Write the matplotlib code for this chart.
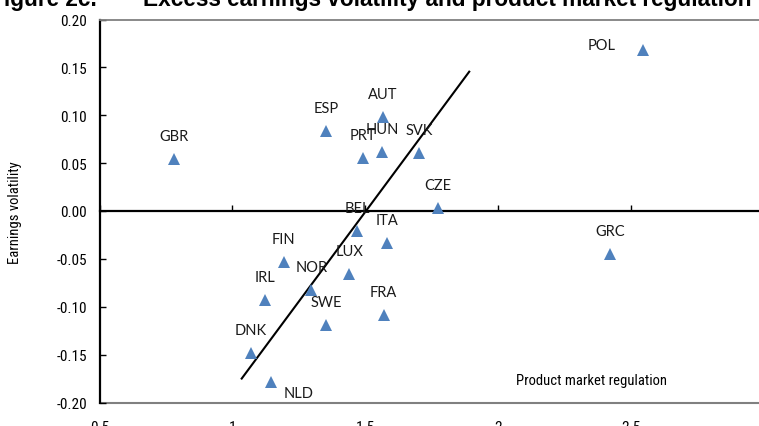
import matplotlib
matplotlib.use("Agg")
import matplotlib.pyplot as plt
from matplotlib import font_manager as fm
from matplotlib.ticker import FormatStrFormatter, MultipleLocator

# ---- data ----
countries = ["POL", "GBR", "ESP", "AUT", "PRT", "HUN", "SVK", "CZE", "BEL", "ITA",
             "FIN", "LUX", "NOR", "IRL", "SWE", "FRA", "DNK", "NLD", "GRC"]
pmr = [2.545, 0.782, 1.352, 1.565, 1.490, 1.563, 1.703, 1.772, 1.469, 1.581,
       1.193, 1.440, 1.297, 1.124, 1.352, 1.569, 1.070, 1.145, 2.421]
volatility = [0.168, 0.0545, 0.0835, 0.098, 0.0555, 0.062, 0.0607, 0.003, -0.0206, -0.0335,
              -0.053, -0.066, -0.0827, -0.0929, -0.119, -0.109, -0.1487, -0.1787, -0.045]
trend_x = [1.035, 1.891]
trend_y = [-0.175, 0.1455]
x_ticks = [0.5, 1.0, 1.5, 2.0, 2.5, 3.0]
x_tick_labels = ["0.5", "1", "1.5", "2", "2.5", "3"]

# ---- fonts: look for a narrow sans ----
names = {f.name for f in fm.fontManager.ttflist}
stretches = {(f.name, f.stretch) for f in fm.fontManager.ttflist}
narrow_kw = {"family": ["Liberation Sans", "DejaVu Sans"]}
narrow_scale = 0.92
for cand in ["Liberation Sans Narrow", "Arial Narrow", "Roboto Condensed",
             "Open Sans Condensed", "DejaVu Sans Condensed"]:
    if cand in names:
        narrow_kw = {"family": [cand, "DejaVu Sans"]}
        narrow_scale = 1.0
        break
else:
    cond = [n for (n, s) in stretches if s in ("condensed", "semi-condensed", 62.5, 75, 87.5)]
    if "DejaVu Sans" in cond:
        narrow_kw = {"family": ["DejaVu Sans"], "stretch": "condensed"}
        narrow_scale = 0.95

def nfs(size):
    return size * narrow_scale

label_font = ["Lato", "DejaVu Sans"]
marker_color = "#4F81BD"
default_offset = (0, 16.5)
label_offsets = {"POL": (-30, 3.5), "NLD": (20, -7.5)}

fig = plt.figure(figsize=(7.59, 4.27), dpi=100)
ax = fig.add_axes([99.5 / 759, 23.5 / 427, (764 - 99.5) / 759, (406.5 - 23.5) / 427])
ax.set_xlim(0.5, 3.0)
ax.set_ylim(-0.2, 0.2)

ax.plot(trend_x, trend_y, color="black", lw=1.5, zorder=2)
ax.plot(pmr, volatility, linestyle="none", marker="^", ms=8.5,
        color=marker_color, markeredgewidth=0, zorder=3)
for c, x, y in zip(countries, pmr, volatility):
    off = label_offsets.get(c, default_offset)
    ax.annotate(c, (x, y), xytext=off, textcoords="offset points",
                ha="center", va="center", fontsize=10.5, family=label_font,
                color="#1a1a1a", zorder=4)

ax.spines["right"].set_visible(False)
ax.spines["top"].set_color("#808080")
ax.spines["top"].set_linewidth(1.3)
ax.spines["left"].set_color("black")
ax.spines["left"].set_linewidth(1.6)
ax.spines["bottom"].set_position(("data", 0))
ax.spines["bottom"].set_color("black")
ax.spines["bottom"].set_linewidth(1.6)

ax.set_xticks(x_ticks)
ax.tick_params(axis="x", direction="in", length=4, width=1, labelbottom=False)
ax.yaxis.set_major_locator(MultipleLocator(0.05))
ax.yaxis.set_major_formatter(FormatStrFormatter("%.2f"))
ax.tick_params(axis="y", direction="in", length=4, width=1, pad=9)
for t in ax.get_yticklabels():
    t.set_fontproperties(fm.FontProperties(size=nfs(11), **narrow_kw))

sec = ax.secondary_xaxis(0.0)
sec.set_xticks(x_ticks)
sec.set_xticklabels(x_tick_labels)
for t in sec.get_xticklabels():
    t.set_fontproperties(fm.FontProperties(size=nfs(11), **narrow_kw))
sec.tick_params(axis="x", length=0, pad=12.5)
sec.spines["bottom"].set_color("#808080")
sec.spines["bottom"].set_linewidth(1.5)

ax.text(2.35, -0.177, "Product market regulation", ha="center", va="center",
        fontproperties=fm.FontProperties(size=nfs(10.5), **narrow_kw))
fig.text(15 / 759, 1 - 213 / 427, "Earnings volatility", rotation=90,
         ha="center", va="center",
         fontproperties=fm.FontProperties(size=nfs(10.5), **narrow_kw))

title_font = ["Liberation Sans", "DejaVu Sans"]
fig.text(97 / 759, 1 - 6 / 427, "Figure 2c.", ha="right", va="baseline",
         fontsize=16.3, fontweight="bold", family=title_font)
fig.text(143 / 759, 1 - 6 / 427,
         "Excess earnings volatility and product market regulation",
         ha="left", va="baseline", fontsize=16.3, fontweight="bold",
         family=title_font)

fig.savefig("out.png", dpi=100)
